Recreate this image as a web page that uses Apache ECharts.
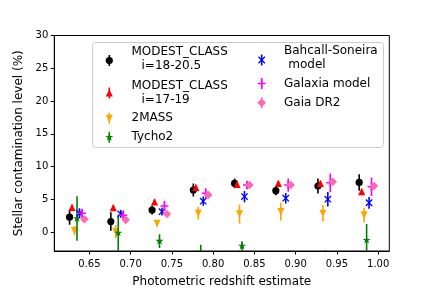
<!DOCTYPE html>
<html>
<head>
<meta charset="utf-8">
<script src="https://cdn.jsdelivr.net/npm/echarts@6/dist/echarts.min.js"></script>
<style>html,body{margin:0;padding:0;background:#fff}#c{width:432px;height:288px}</style>
</head>
<body>
<div id="c"></div>
<script>
// ---- data ----
const binX = [0.626, 0.676, 0.726, 0.776, 0.826, 0.876, 0.927, 0.977];
const xTicks = [0.65, 0.70, 0.75, 0.80, 0.85, 0.90, 0.95, 1.00];
const yTicks = [0, 5, 10, 15, 20, 25, 30];

const modest1820Y   = [2.3, 1.65, 3.4, 6.45, 7.45, 6.35, 7.05, 7.6];
const modest1820Err = [1.15, 1.4, 0.7, 1.0, 0.75, 0.7, 1.15, 1.25];
const modest1719Y   = [3.8, 3.75, 4.65, 6.85, 7.3, 7.45, 7.45, 6.2];
const modest1719Err = [0.4, 0.4, 0.4, 0.4, 0.4, 0.4, 0.4, 0.4];
const twoMassY      = [0.25, 0.1, 1.35, 2.9, 2.8, 3.15, 2.9, 2.65];
const twoMassErr    = [0.7, 1.0, 0.5, 0.95, 1.45, 1.35, 1.25, 1.1];
const tycho2Y       = [2.1, -0.1, -1.35, -3.0, -2.1, -5.5, -4.0, -1.2];
const tycho2Err     = [3.4, 2.8, 1.05, 1.1, 0.75, 1.0, 1.3, 2.45];
const bahcallY      = [2.9, 2.8, 3.15, 4.75, 5.45, 5.2, 5.05, 4.5];
const bahcallErr    = [0.75, 0.6, 0.6, 0.7, 0.85, 0.8, 1.1, 0.9];
const galaxiaY      = [2.9, 2.6, 4.0, 5.95, 7.2, 7.2, 7.55, 6.95];
const galaxiaErr    = [0.7, 0.6, 0.8, 0.75, 0.65, 1.0, 1.4, 1.4];
const gaiaY         = [2.0, 1.9, 2.8, 5.7, 7.2, 7.2, 7.7, 7.05];
const gaiaErr       = [0.4, 0.4, 0.4, 0.4, 0.4, 0.4, 0.4, 0.4];

const seriesDefs = [
  {name: 'MODEST_CLASS i=18-20.5', y: modest1820Y, err: modest1820Err, dx: 0.0,   shape: 'o', color: '#000000'},
  {name: 'MODEST_CLASS i=17-19',   y: modest1719Y, err: modest1719Err, dx: 0.003, shape: '^', color: '#ff0000'},
  {name: '2MASS',                  y: twoMassY,    err: twoMassErr,    dx: 0.006, shape: 'v', color: '#ffa500'},
  {name: 'Tycho2',                 y: tycho2Y,     err: tycho2Err,     dx: 0.009, shape: '*', color: '#008000'},
  {name: 'Bahcall-Soneira model',  y: bahcallY,    err: bahcallErr,    dx: 0.012, shape: 'x', color: '#0000ff'},
  {name: 'Galaxia model',          y: galaxiaY,    err: galaxiaErr,    dx: 0.015, shape: '+', color: '#ff00ff'},
  {name: 'Gaia DR2',               y: gaiaY,       err: gaiaErr,       dx: 0.018, shape: 'D', color: '#ff69b4'}
];

// ---- marker drawing ----
function marker(shape, cx, cy, color, z) {
  const s = 3.6;
  const zz = z || 0;
  switch (shape) {
    case 'o': return {type: 'circle', z: zz, shape: {cx: cx, cy: cy, r: 3.6}, style: {fill: color}};
    case '^': return {type: 'polygon', z: zz, shape: {points: [[cx, cy - s], [cx - s, cy + s], [cx + s, cy + s]]}, style: {fill: color}};
    case 'v': return {type: 'polygon', z: zz, shape: {points: [[cx, cy + s], [cx - s, cy - s], [cx + s, cy - s]]}, style: {fill: color}};
    case '*': {
      const pts = [];
      const R = 4.2, r = R * 0.382;
      for (let i = 0; i < 10; i++) {
        const a = -Math.PI / 2 + i * Math.PI / 5;
        const rr = i % 2 === 0 ? R : r;
        pts.push([cx + rr * Math.cos(a), cy + rr * Math.sin(a)]);
      }
      return {type: 'polygon', z: zz, shape: {points: pts}, style: {fill: color}};
    }
    case 'x': return {type: 'group', children: [
      {type: 'line', z: zz, shape: {x1: cx - 3.2, y1: cy - 3.2, x2: cx + 3.2, y2: cy + 3.2}, style: {stroke: color, lineWidth: 1.3}},
      {type: 'line', z: zz, shape: {x1: cx - 3.2, y1: cy + 3.2, x2: cx + 3.2, y2: cy - 3.2}, style: {stroke: color, lineWidth: 1.3}}
    ]};
    case '+': return {type: 'group', children: [
      {type: 'line', z: zz, shape: {x1: cx - 4, y1: cy, x2: cx + 4, y2: cy}, style: {stroke: color, lineWidth: 1.4}},
      {type: 'line', z: zz, shape: {x1: cx, y1: cy - 4, x2: cx, y2: cy + 4}, style: {stroke: color, lineWidth: 1.4}}
    ]};
    case 'D': return {type: 'polygon', z: zz, shape: {points: [[cx, cy - 4.3], [cx + 4.3, cy], [cx, cy + 4.3], [cx - 4.3, cy]]}, style: {fill: color}};
  }
}

function makeRender(def) {
  return function (params, api) {
    const x = api.value(0), y = api.value(1), e = api.value(2);
    const p = api.coord([x, y]);
    const pTop = api.coord([x, y + e]);
    const pBot = api.coord([x, y - e]);
    return {type: 'group', children: [
      {type: 'line', shape: {x1: p[0], y1: pTop[1], x2: p[0], y2: pBot[1]}, style: {stroke: def.color, lineWidth: 1.6}},
      marker(def.shape, p[0], p[1], def.color)
    ]};
  };
}

const series = seriesDefs.map(function (def, k) {
  return {
    type: 'custom',
    name: def.name,
    clip: true,
    z: 2 + k,
    renderItem: makeRender(def),
    data: binX.map(function (bx, i) { return [bx + def.dx, def.y[i], def.err[i]]; })
  };
});

// ---- legend (graphic) ----
const FONT = '12px "DejaVu Sans"';
function legendText(t, x, y) {
  return {type: 'text', z: 110, style: {text: t, x: x, y: y, font: FONT, fill: '#000', verticalAlign: 'middle'}};
}
function legendMarker(def, x, y) {
  return {type: 'group', children: [
    {type: 'line', z: 110, shape: {x1: x, y1: y - 5.5, x2: x, y2: y + 5.5}, style: {stroke: def.color, lineWidth: 1.6}},
    marker(def.shape, x, y, def.color, 111)
  ]};
}
const graphic = [
  {type: 'rect', z: 99, shape: {x: 92.5, y: 42.5, width: 291, height: 105, r: 3}, style: {fill: 'rgba(255,255,255,0.8)', stroke: '#cccccc', lineWidth: 1}},
  legendMarker(seriesDefs[0], 109.3, 60.5),
  legendText('MODEST_CLASS', 131.5, 52),
  legendText('i=18-20.5', 141.5, 65.5),
  legendMarker(seriesDefs[1], 109.3, 93),
  legendText('MODEST_CLASS', 131.5, 85.5),
  legendText('i=17-19', 141.5, 99.5),
  legendMarker(seriesDefs[2], 109.3, 118.3),
  legendText('2MASS', 131.5, 118.3),
  legendMarker(seriesDefs[3], 109.3, 137.3),
  legendText('Tycho2', 131.5, 137.3),
  legendMarker(seriesDefs[4], 261.7, 60),
  legendText('Bahcall-Soneira', 284, 51),
  legendText('model', 288.3, 64.5),
  legendMarker(seriesDefs[5], 261.7, 83.5),
  legendText('Galaxia model', 284, 83.5),
  legendMarker(seriesDefs[6], 261.7, 102.7),
  legendText('Gaia DR2', 284, 102.7)
];

const chart = echarts.init(document.getElementById('c'), null, {renderer: 'canvas'});
chart.setOption({
  animation: false,
  backgroundColor: '#ffffff',
  textStyle: {fontFamily: 'DejaVu Sans'},
  grid: {left: 54.3, right: 42.7, top: 35.5, bottom: 37, containLabel: false, outerBoundsMode: 'none',
    show: true, borderColor: '#000', borderWidth: 1, backgroundColor: 'transparent'},
  xAxis: {
    type: 'value', min: 0.6075, max: 1.0135,
    name: 'Photometric redshift estimate', nameLocation: 'middle', nameGap: 25,
    nameTextStyle: {fontSize: 12, color: '#000', fontFamily: 'DejaVu Sans'},
    axisLine: {show: true, onZero: false, lineStyle: {color: '#000', width: 1}},
    axisTick: {show: true, length: 3.5, inside: false, customValues: xTicks, lineStyle: {color: '#000'}},
    axisLabel: {customValues: xTicks, margin: 8, fontSize: 10, color: '#000', fontFamily: 'DejaVu Sans',
      formatter: function (v) { return Number(v).toFixed(2); }},
    splitLine: {show: false}
  },
  yAxis: {
    type: 'value', min: -2.85, max: 30,
    name: 'Stellar contamination level (%)', nameLocation: 'middle', nameGap: 26,
    nameTextStyle: {fontSize: 12, color: '#000', fontFamily: 'DejaVu Sans'},
    axisLine: {show: true, onZero: false, lineStyle: {color: '#000', width: 1}},
    axisTick: {show: true, length: 3.5, inside: false, customValues: yTicks, lineStyle: {color: '#000'}},
    axisLabel: {customValues: yTicks, margin: 6, fontSize: 10, color: '#000', fontFamily: 'DejaVu Sans'},
    splitLine: {show: false}
  },
  series: series,
  graphic: graphic
});
</script>
</body>
</html>
